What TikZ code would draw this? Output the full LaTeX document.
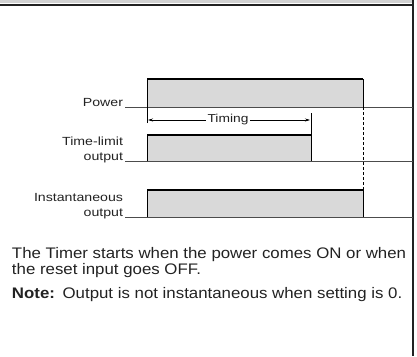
\documentclass[tikz,border=0pt]{standalone}
\usepackage{fontspec}
\setmainfont[FakeStretch=1.1]{Liberation Sans}
\newfontfamily\lblfont[FakeStretch=1.2]{Liberation Sans}
\usetikzlibrary{arrows.meta, positioning}
\definecolor{pulsegray}{HTML}{D9D9D9}
\definecolor{inkgray}{HTML}{222222}

\begin{document}
\begin{tikzpicture}[x=1pt, y=-1pt,
  every node/.style={inner sep=0pt, outer sep=0pt, text=inkgray},
  siglabel/.style={anchor=base east, align=right, font=\lblfont\fontsize{11.8}{15}\selectfont},
  bodytext/.style={anchor=base west, font=\fontsize{15.3}{16}\selectfont},
  baseline/.style={draw=black!70, line width=0.9pt},
  pulse/.style={fill=pulsegray},
  edge/.style={draw=black, line width=1pt},
  topedge/.style={draw=black, line width=1.8pt}]
\useasboundingbox (0,0) rectangle (417,356);
% frame
\fill[gray!35] (0,0) rectangle (413,3);
\draw[inkgray, line width=1.2pt] (0,5) -- (413,5);
\draw[inkgray, line width=1.6pt] (413,0) -- (413,356);
% labels
\node[siglabel] (power) at (123,106) {Power};
\node[siglabel] (limit) at (123,160) {Time-limit\\output};
\node[siglabel] (inst) at (123,216) {Instantaneous\\output};
% power
\fill[pulse] (147,79) rectangle (363,107);
\draw[baseline] (125,107) -- (413,107);
\draw[topedge] (147,79) -- (363,79);
\draw[edge] (147,123) -- (147,79);
\draw[edge] (363,79) -- (363,107);
\draw[edge, dashed, dash pattern=on 3pt off 2pt] (363,107) -- (363,190);
% timing
\node[font=\lblfont\fontsize{11.5}{12}\selectfont, fill=white, inner xsep=2pt] (timing) at (228,120) {Timing};
\draw[-{Stealth[length=5pt, width=3pt]}, line width=0.6pt] (timing.west) -- (148,120);
\draw[-{Stealth[length=5pt, width=3pt]}, line width=0.6pt] (timing.east) -- (310,120);
% time-limit output
\fill[pulse] (147,135) rectangle (311,161);
\draw[baseline] (125,161) -- (413,161);
\draw[edge] (147,161) -- (147,135);
\draw[topedge] (147,135) -- (311,135);
\draw[edge] (311,113) -- (311,161);
% instantaneous output
\fill[pulse] (147,190) rectangle (363,217);
\draw[baseline] (125,217) -- (413,217);
\draw[edge] (147,217) -- (147,190);
\draw[topedge] (147,190) -- (363,190);
\draw[edge] (363,190) -- (363,217);
% notes
\node[bodytext] (txta) at (12,258) {The Timer starts when the power comes ON or when};
\node[bodytext] (txtb) at (12,274) {the reset input goes OFF.};
\node[bodytext] (note) at (12,298) {\textbf{Note:}\enspace Output is not instantaneous when setting is 0.};
\end{tikzpicture}
\end{document}
